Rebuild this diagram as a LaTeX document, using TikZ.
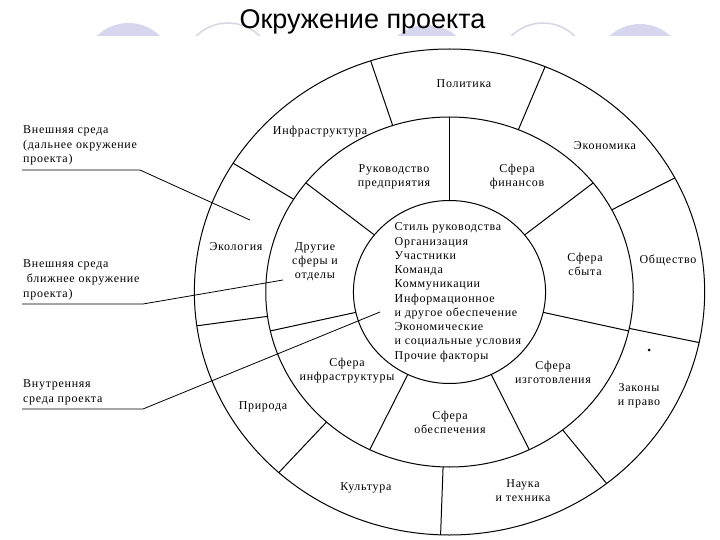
\documentclass[tikz,border=0pt]{standalone}
\usepackage{fontspec}
\setmainfont{Liberation Serif}[LetterSpace=6]
\newfontfamily\titlefont{Liberation Sans}
\usepackage{tikz}
\usetikzlibrary{positioning,calc}

\definecolor{lavender}{RGB}{214,214,238}
\definecolor{domegrey}{RGB}{216,216,228}

\begin{document}
\begin{tikzpicture}[x=1pt,y=-1pt,
    ring/.style={line width=1pt},
    pointer/.style={line width=0.8pt},
    lbl/.style={align=center,inner sep=0pt,
      font=\fontsize{12}{13.8}\selectfont},
    note/.style={align=left,inner sep=0pt,anchor=base west,
      font=\fontsize{12}{14.8}\selectfont},
    core/.style={align=left,inner sep=0pt,anchor=base west,
      font=\fontsize{12}{14.25}\selectfont}
  ]
  \useasboundingbox (0,0) rectangle (720,540);

  % template decoration at the top
  \begin{scope}
    \clip (0,0) rectangle (720,36);
    \fill[lavender] (128.5,68) circle (45);
    \draw[domegrey,line width=1.6pt] (228,68) circle (45);
    \fill[lavender] (427,70) circle (45);
    \draw[domegrey,line width=1.6pt] (543,68) circle (45);
    \fill[lavender] (640,69) circle (45);
  \end{scope}

  \node[font=\titlefont\fontsize{27}{31}\selectfont,anchor=base] (title)
    at (362.5,29) {Окружение проекта};

  % the three rings
  \begin{scope}[shift={(449.5,292)},x=1.05pt,y=1pt]
    \draw[ring] (0,0) circle[radius=91.5];
    \draw[ring] (0,0) circle[radius=175];
    \draw[ring] (0,0) circle[radius=243];
    \foreach \k in {0,...,6}
      \draw[ring] ({90+360/7*\k}:91.5) -- ({90+360/7*\k}:175);
    \foreach \k in {0,...,8}
      \draw[ring] ({108-40*\k}:175) -- ({108-40*\k}:243);
  \end{scope}

  % base = last line
  \node[core] (core) at (394.5,359) {Стиль руководства\\Организация\\Участники\\Команда\\Коммуникации\\Информационное\\и другое обеспечение\\Экономические\\и социальные условия\\Прочие факторы};

  % middle ring
  \node[lbl] (ruk) at (394,177) {Руководство\\предприятия};
  \node[lbl] (fin) at (517,177) {Сфера\\финансов};
  \node[lbl] (sbyt) at (585,264) {Сфера\\сбыта};
  \node[lbl] (izg) at (553,372) {Сфера\\изготовления};
  \node[lbl] (obesp) at (450,422) {Сфера\\обеспечения};
  \node[lbl] (infr) at (347,371) {Сфера\\инфраструктуры};
  \node[lbl] (drug) at (315,262) {Другие\\сферы и\\отделы};

  % outer ring
  \node[lbl] (polit) at (464,84) {Политика};
  \node[lbl] (ekon) at (605,146) {Экономика};
  \node[lbl] (obsh) at (668,260) {Общество};
  \node[lbl] (zak) at (639,396) {Законы\\и право};
  \node[lbl] (nauka) at (523,491) {Наука\\и техника};
  \node[lbl] (kult) at (366,488) {Культура};
  \node[lbl] (prir) at (263,407) {Природа};
  \node[lbl] (ekol) at (236,247) {Экология};
  \node[lbl] (infra) at (320,132) {Инфраструктура};

  \fill (649,350) circle (1.5);

  % notes on the left
  \node[note] (far) at (23,163) {Внешняя среда\\(дальнее окружение\\проекта)};
  \node[note] (near) at (23,297) {Внешняя среда\\\ ближнее окружение\\проекта)};
  \node[note] (inner) at (23,402) {Внутренняя\\среда проекта};

  \coordinate (farTip) at (250,220);
  \coordinate (nearTip) at (283,280);
  \coordinate (innerTip) at (380,312);

  \draw[pointer] (22,170) -- (140,170) -- (farTip);
  \draw[pointer] (22,304) -- (143,304) -- (nearTip);
  \draw[pointer] (22,409) -- (143,409) -- (innerTip);
\end{tikzpicture}
\end{document}
